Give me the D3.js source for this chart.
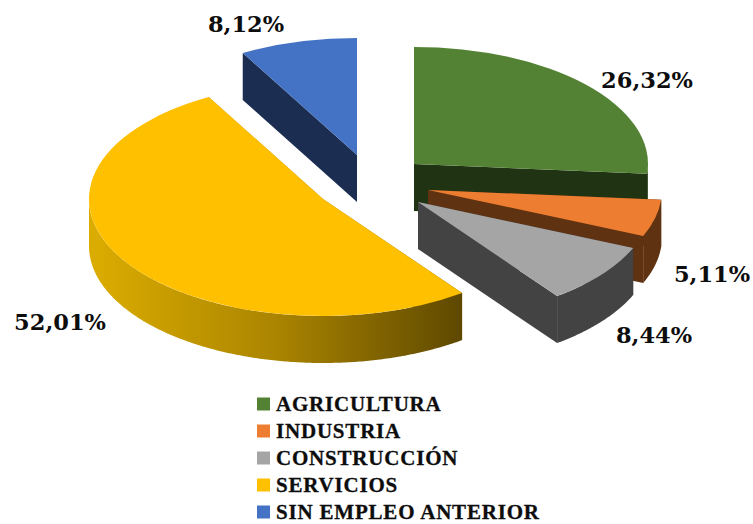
<!DOCTYPE html>
<html>
<head>
<meta charset="utf-8">
<script src="https://cdn.jsdelivr.net/npm/d3@7"></script>
<style>
  body { margin: 0; background: #fff; }
  svg { display: block; }
</style>
</head>
<body>
<div id="graph-container"></div>
<script>
const categories = ["AGRICULTURA", "INDUSTRIA", "CONSTRUCCIÓN", "SERVICIOS", "SIN EMPLEO ANTERIOR"];
const shares = [26.32, 5.11, 8.44, 52.01, 8.12];
const valueLabels = ["26,32%", "5,11%", "8,44%", "52,01%", "8,12%"];

const topColors = ["#548235", "#ed7d31", "#a5a5a5", "#ffc000", "#4472c4"];
const wallColors = ["#203413", "#5f3212", "#434343", "url(#servicios-wall)", "#1b2e52"];

// where the point of each exploded slice ends up
const apexes = [[414, 164], [428, 190], [418, 202], [323, 199], [357, 155]];
const labelSpots = [[647, 80], [712, 274], [654, 335], [60, 322], [246, 24]];

const width = 753, height = 524;
const rx = 234, ry = 117, depth = 47;

const svg = d3.select("#graph-container")
  .append("svg")
  .attr("width", width)
  .attr("height", height);

// the front wall of the yellow slice gets darker to the right
const grad = svg.append("defs").append("linearGradient")
  .attr("id", "servicios-wall")
  .attr("gradientUnits", "userSpaceOnUse")
  .attr("x1", 89).attr("x2", 460)
  .attr("y1", 0).attr("y2", 0);
grad.append("stop").attr("offset", "0%").attr("stop-color", "#dcad00");
grad.append("stop").attr("offset", "50%").attr("stop-color", "#ab8500");
grad.append("stop").attr("offset", "100%").attr("stop-color", "#5f4900");

const pie = d3.pie().sort(null).value(d => d)(shares);
const arc = d3.arc().innerRadius(0).outerRadius(rx);
const edge = (a, b) => [Math.sin(a) * rx + b[0], -Math.cos(a) * ry + b[1]];

// draw order is not the data order, back slices go first
const order = [4, 0, 1, 2, 3];

const slices = svg.selectAll("g.slice")
  .data(order)
  .enter()
  .append("g")
  .attr("class", "slice");

// cut walls, then the rounded outer wall, then the top face
slices.each(function(i) {
  const g = d3.select(this);
  const p = pie[i], c = apexes[i];
  [p.startAngle, p.endAngle].forEach(a => {
    const e = edge(a, c);
    g.append("path")
      .attr("d", d3.line()([c, e, [e[0], e[1] + depth], [c[0], c[1] + depth]]))
      .attr("fill", wallColors[i]);
  });

  const from = Math.max(p.startAngle, Math.PI / 2);
  const to = Math.min(p.endAngle, Math.PI * 3 / 2);
  if (from < to) {
    const steps = d3.range(from, to, 0.01).concat(to).map(a => edge(a, c));
    const down = steps.map(d => [d[0], d[1] + depth]).reverse();
    g.append("path")
      .attr("d", d3.line()(steps.concat(down)) + "Z")
      .attr("fill", wallColors[i]);
  }

  g.append("path")
    .attr("d", arc(p))
    .attr("transform", `translate(${c[0]},${c[1]}) scale(1,${ry / rx})`)
    .attr("fill", topColors[i]);
});

svg.selectAll("text.value")
  .data(valueLabels)
  .enter()
  .append("text")
  .attr("class", "value")
  .attr("x", (d, i) => labelSpots[i][0])
  .attr("y", (d, i) => labelSpots[i][1])
  .attr("dy", "0.36em")
  .attr("text-anchor", "middle")
  .style("font", "bold 22.5px 'DejaVu Serif'")
  .style("fill", "#0d0d0d")
  .text(d => d);

// legend, last row sits right at the bottom of the page
const legendY = d3.scalePoint().domain(categories).range([404, 512]);

const legend = svg.selectAll("g.legend")
  .data(categories)
  .enter()
  .append("g")
  .attr("class", "legend")
  .attr("transform", d => `translate(257,${legendY(d)})`);

legend.append("rect")
  .attr("y", -6.5)
  .attr("width", 13)
  .attr("height", 13)
  .attr("fill", (d, i) => topColors[i]);

legend.append("text")
  .attr("x", 19)
  .attr("dy", "0.35em")
  .style("font", "bold 21px 'Liberation Serif'")
  .style("letter-spacing", "0.8px")
  .style("fill", "#0d0d0d")
  .style("stroke", "#0d0d0d")
  .style("stroke-width", "0.3px")
  .text(d => d);
</script>
</body>
</html>
